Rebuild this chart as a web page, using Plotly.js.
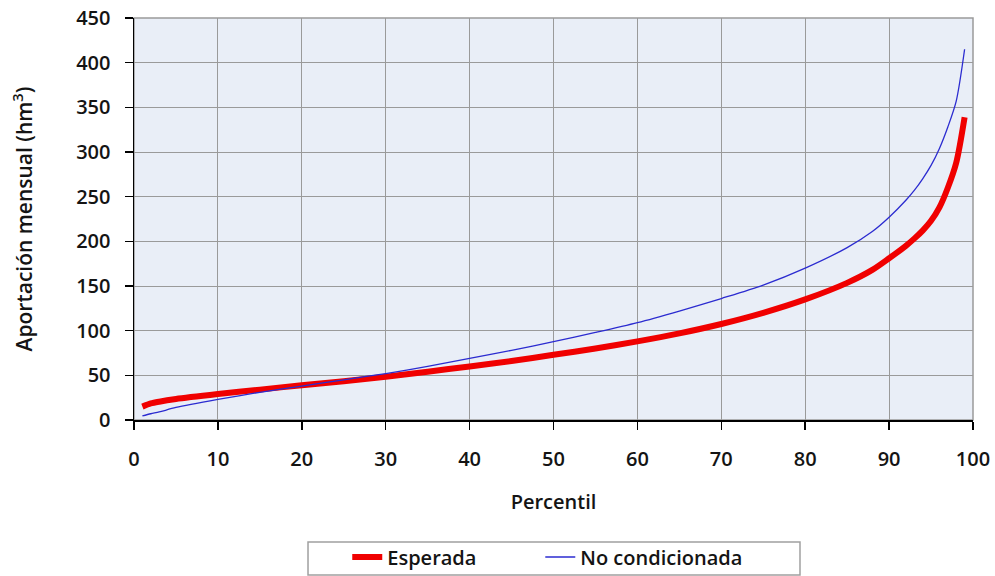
<!DOCTYPE html>
<html>
<head>
<meta charset="utf-8">
<script src="https://cdn.plot.ly/plotly-3.0.1.min.js"></script>
<style>html,body{margin:0;padding:0;background:#fff;}#chart{width:995px;height:576px;}</style>
</head>
<body>
<div id="chart"></div>
<script>
const percentiles = [1, 2, 3, 5, 10, 15, 20, 25, 30, 35, 40, 45, 50, 55, 60, 65, 70, 75, 80, 85, 88, 90, 92, 93, 94, 95, 96, 97, 98, 99];
const esperada = [15, 18.5, 20.5, 23.5, 29, 34, 39, 43.5, 48.5, 54, 60, 66, 73, 80, 88, 97, 107.5, 120, 135, 153.5, 168, 181, 195, 203, 212, 223, 238, 260, 288, 339];
const noCondicionada = [4.5, 7, 9, 14, 23, 31, 38, 45, 52, 60, 69, 78, 87.7, 98, 109, 122, 136, 151, 170, 193, 211, 227, 246, 257, 270, 285, 304, 328, 357, 415];
const seriesNames = ["Esperada", "No condicionada"];
const xTicks = [0, 10, 20, 30, 40, 50, 60, 70, 80, 90, 100];
const yTicks = [0, 50, 100, 150, 200, 250, 300, 350, 400, 450];

const font = "'Open Sans', 'Noto Sans', sans-serif";
const txt = {family: font, size: 20, color: "#141414", weight: 600};
const traces = [
  {x: percentiles, y: esperada, name: seriesNames[0], mode: "lines", legend: "legend",
   line: {color: "#f00000", width: 6, shape: "spline", smoothing: 0.8}},
  {x: percentiles, y: noCondicionada, name: seriesNames[1], mode: "lines", legend: "legend2",
   line: {color: "#2b2bd0", width: 1.3, shape: "spline", smoothing: 0.8}}
];
const legendBase = {orientation: "h", xref: "container", yref: "container",
  xanchor: "left", y: 0.033, yanchor: "middle",
  borderwidth: 0, bgcolor: "rgba(0,0,0,0)", font: txt};
const layout = {
  width: 995, height: 576,
  margin: {l: 134, r: 22, t: 18, b: 156, autoexpand: false},
  paper_bgcolor: "#ffffff",
  plot_bgcolor: "#e9eef7",
  font: txt,
  showlegend: true,
  legend: Object.assign({}, legendBase, {x: 0.349}),
  legend2: Object.assign({}, legendBase, {x: 0.543}),
  xaxis: {range: [0, 100], tickvals: xTicks, ticktext: xTicks.map(String),
          showgrid: true, gridcolor: "#9a9a9a", gridwidth: 1,
          showline: true, linecolor: "#000", linewidth: 1.5,
          ticks: "outside", ticklen: 8, tickcolor: "#000", tickwidth: 1.5,
          ticklabelstandoff: 12, zeroline: false, tickfont: txt,
          title: {text: "Percentil", font: txt, standoff: 24}},
  yaxis: {range: [0, 450], tickvals: yTicks, ticktext: yTicks.map(String),
          showgrid: true, gridcolor: "#9a9a9a", gridwidth: 1,
          showline: true, linecolor: "#000", linewidth: 1.5,
          ticks: "outside", ticklen: 8, tickcolor: "#000", tickwidth: 1.5,
          ticklabelstandoff: 10, zeroline: false, tickfont: txt,
          title: {text: "Aportación mensual (hm<sup>3</sup>)", font: Object.assign({}, txt, {size: 21}), standoff: 38}},
  shapes: [
    {type: "rect", xref: "paper", yref: "paper", x0: 0, x1: 1, y0: 0, y1: 1,
     line: {color: "#9a9a9a", width: 1.5}, layer: "below"},
    {type: "rect", xref: "paper", yref: "paper", x0: 0.2074, x1: 0.7938, y0: -0.3035, y1: -0.3856,
     line: {color: "#a0a0a0", width: 1.5}, fillcolor: "rgba(0,0,0,0)", layer: "above"}
  ]
};
Plotly.newPlot("chart", traces, layout, {displayModeBar: false, staticPlot: true});
</script>
</body>
</html>
